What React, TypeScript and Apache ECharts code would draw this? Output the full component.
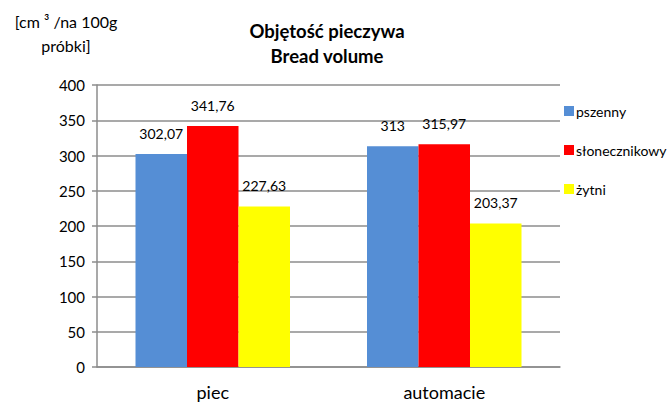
import React, { useEffect, useRef } from "react";
import * as echarts from "echarts";

const categories = ["piec", "automacie"];
const seriesNames = ["pszenny", "słonecznikowy", "żytni"];
const pszenny = [302.07, 313];
const slonecznikowy = [341.76, 315.97];
const zytni = [227.63, 203.37];
const colors = ["#558ED5", "#FF0000", "#FFFF00"];
const FONT = "Lato";

export default function App() {
  const ref = useRef<HTMLDivElement>(null);
  useEffect(() => {
    document.body.style.margin = "0";
    if (!ref.current) return;
    const chart = echarts.init(ref.current, null, { renderer: "svg" });
    const values = [pszenny, slonecznikowy, zytni];
    chart.setOption({
      animation: false,
      textStyle: { fontFamily: FONT },
      title: {
        text: "Objętość pieczywa\nBread volume",
        left: 322,
        top: 13,
        textAlign: "center",
        textStyle: { fontFamily: FONT, fontSize: 18.5, fontWeight: "bold", color: "#000", lineHeight: 25 },
      },
      graphic: [
        {
          type: "text",
          x: 66,
          y: 9,
          style: {
            text: "[cm ³ /na 100g\npróbki]",
            textAlign: "center",
            font: `16px ${FONT}`,
            lineHeight: 24,
            fill: "#000",
          },
        },
      ],
      legend: {
        orient: "vertical",
        left: 559,
        top: 99,
        itemWidth: 10,
        itemHeight: 10,
        itemGap: 25,
        icon: "rect",
        data: seriesNames,
        textStyle: { fontFamily: FONT, fontSize: 14, color: "#000", padding: [0, 0, 0, -3] },
      },
      grid: { left: 97, right: 107, top: 85, bottom: 36, containLabel: false },
      xAxis: {
        type: "category",
        data: categories,
        axisLine: { lineStyle: { color: "#8C8C8C", width: 1.5 } },
        axisTick: { show: false },
        axisLabel: { fontFamily: FONT, fontSize: 18, color: "#000", margin: 16 },
      },
      yAxis: {
        type: "value",
        min: 0,
        max: 400,
        interval: 50,
        axisLine: { show: true, lineStyle: { color: "#8C8C8C", width: 1.5 } },
        axisTick: { show: true, length: 5, lineStyle: { color: "#8C8C8C", width: 1.5 } },
        splitLine: { lineStyle: { color: "#8C8C8C", width: 1.5 } },
        axisLabel: { fontFamily: FONT, fontSize: 15, color: "#000", margin: 12 },
      },
      series: seriesNames.map((name, i) => ({
        name,
        type: "bar",
        data: values[i],
        barWidth: 51.5,
        barGap: "0%",
        itemStyle: { color: colors[i] },
        label: {
          show: true,
          position: "top",
          distance: 14,
          fontFamily: FONT,
          fontSize: 14,
          color: "#000",
          formatter: (p: any) => String(p.value).replace(".", ","),
        },
      })),
    });
    return () => chart.dispose();
  }, []);
  return <div ref={ref} style={{ width: 667, height: 403 }} />;
}
